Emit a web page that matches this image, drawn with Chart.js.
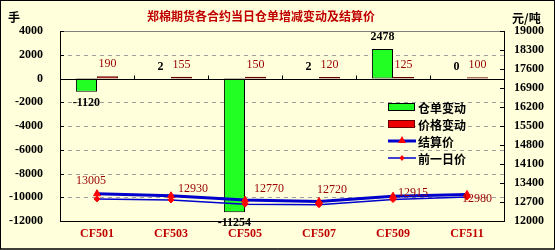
<!DOCTYPE html>
<html><head><meta charset="utf-8">
<script src="https://cdn.jsdelivr.net/npm/chart.js@4"></script>
<style>html,body{margin:0;padding:0;background:#FFFFDC;}#wrap{width:555px;height:250px;position:relative}</style>
</head><body><div id="wrap"><canvas id="c" width="555" height="250"></canvas></div>
<script>
const categories = ['CF501','CF503','CF505','CF507','CF509','CF511'];
const warrantChange = [-1120, 2, -11254, 2, 2478, 0];
const priceChange = [190, 155, 150, 120, 125, 100];
const settlePrice = [13005, 12930, 12770, 12720, 12915, 12980];
const prevPrice = [12815, 12775, 12620, 12600, 12790, 12880];
const leftAxisRange = [-12000, 4000, 2000];
const rightAxisRange = [12000, 19000, 700];
const seriesNames = ['仓单变动','价格变动','结算价','前一日价'];
const titleText = '郑棉期货各合约当日仓单增减变动及结算价';
const leftUnit = '手';
const rightUnit = '元/吨';

const NUMFONT = "'Liberation Serif', 'Times New Roman', serif";
const CJKFONT = "'Noto Sans CJK SC', sans-serif";
const BG = '#FFFFDC';

const decor = {
  id: 'decor',
  beforeDraw(chart) {
    const ctx = chart.ctx;
    ctx.save();
    ctx.fillStyle = BG;
    ctx.fillRect(0, 0, chart.width, chart.height);
    ctx.restore();
  },
  beforeDatasetsDraw(chart) {
    const ctx = chart.ctx, a = chart.chartArea;
    const y = chart.scales.y, y1 = chart.scales.y1;
    ctx.save();
    ctx.strokeStyle = '#A0A0A0';
    ctx.lineWidth = 1;
    ctx.setLineDash([4, 4]);
    y.ticks.forEach(t => {
      if (t.value === y.max || t.value === y.min || t.value === 0) return;
      const p = Math.round(y.getPixelForValue(t.value)) + 0.5;
      ctx.beginPath(); ctx.moveTo(a.left, p); ctx.lineTo(a.right, p); ctx.stroke();
    });
    ctx.setLineDash([]);
    ctx.strokeStyle = '#808080';
    ctx.beginPath(); ctx.moveTo(a.left, a.top + 0.5); ctx.lineTo(a.right, a.top + 0.5); ctx.stroke();
    ctx.strokeStyle = '#000';
    y.ticks.forEach(t => {
      const p = Math.round(y.getPixelForValue(t.value)) + 0.5;
      ctx.beginPath(); ctx.moveTo(a.left, p); ctx.lineTo(a.left + 4, p); ctx.stroke();
    });
    y1.ticks.forEach(t => {
      const p = Math.round(y1.getPixelForValue(t.value)) + 0.5;
      ctx.beginPath(); ctx.moveTo(a.right - 4, p); ctx.lineTo(a.right, p); ctx.stroke();
    });
    ctx.restore();
  },
  afterDatasetsDraw(chart) {
    const ctx = chart.ctx, a = chart.chartArea;
    const y = chart.scales.y, x = chart.scales.x;
    ctx.save();
    const z = Math.round(y.getPixelForValue(0)) + 0.5;
    ctx.strokeStyle = '#000'; ctx.lineWidth = 1;
    ctx.beginPath(); ctx.moveTo(a.left, z); ctx.lineTo(a.right, z); ctx.stroke();
    const half = (x.getPixelForValue(1) - x.getPixelForValue(0)) / 2;
    for (let i = 0; i < categories.length - 1; i++) {
      const px = Math.round(x.getPixelForValue(i) + half) + 0.5;
      ctx.beginPath(); ctx.moveTo(px, z); ctx.lineTo(px, z - 4); ctx.stroke();
    }
    ctx.textAlign = 'center'; ctx.textBaseline = 'middle';
    [[0, '#000', 'bold'], [1, '#990000', 'normal']].forEach(([di, col, w]) => {
      const meta = chart.getDatasetMeta(di);
      const vals = chart.data.datasets[di].data;
      ctx.fillStyle = col;
      ctx.font = w + ' 12px ' + NUMFONT;
      meta.data.forEach((el, i) => {
        const v = vals[i];
        const ty = v >= 0 ? Math.min(el.y, el.base) - 12 : Math.max(el.y, el.base) + 11;
        ctx.fillText(String(v), el.x, ty);
      });
    });
    const offs = chart.options.plugins.decor.labelOffsets;
    const meta = chart.getDatasetMeta(2);
    ctx.fillStyle = '#990000';
    ctx.font = 'normal 12px ' + NUMFONT;
    meta.data.forEach((el, i) => {
      ctx.fillText(String(settlePrice[i]), el.x + offs[i][0], el.y + offs[i][1]);
    });
    ctx.restore();
  },
  afterDraw(chart) {
    const ctx = chart.ctx;
    ctx.save();
    ctx.fillStyle = '#C00000';
    ctx.font = 'bold 12px ' + CJKFONT;
    ctx.textAlign = 'center'; ctx.textBaseline = 'middle';
    ctx.fillText(titleText, 261, 16);
    ctx.fillStyle = '#000';
    ctx.textAlign = 'left';
    ctx.fillText(leftUnit, 8, 17);
    ctx.fillText(rightUnit, 512, 18);
    const lx = 388, tx = 418, rows = [107, 124, 141, 158];
    const ds = chart.data.datasets;
    ctx.lineWidth = 1;
    [0, 1].forEach(i => {
      ctx.fillStyle = ds[i].backgroundColor;
      ctx.fillRect(lx, rows[i] - 3.5, 26, 7);
      ctx.strokeStyle = ds[i].borderColor;
      ctx.strokeRect(lx + 0.5, rows[i] - 3.5, 26, 7);
    });
    [2, 3].forEach(i => {
      const r = rows[i];
      ctx.strokeStyle = ds[i].borderColor;
      ctx.lineWidth = ds[i].borderWidth;
      ctx.beginPath(); ctx.moveTo(lx, r); ctx.lineTo(lx + 28, r); ctx.stroke();
      ctx.fillStyle = ds[i].pointBackgroundColor;
      ctx.beginPath();
      if (i === 2) {
        ctx.moveTo(lx + 14, r - 5); ctx.lineTo(lx + 18, r + 2); ctx.lineTo(lx + 10, r + 2);
      } else {
        ctx.moveTo(lx + 14, r - 3); ctx.lineTo(lx + 16.5, r); ctx.lineTo(lx + 14, r + 3); ctx.lineTo(lx + 11.5, r);
      }
      ctx.closePath(); ctx.fill();
    });
    ctx.fillStyle = '#000';
    ctx.font = 'bold 12px ' + CJKFONT;
    ctx.textAlign = 'left'; ctx.textBaseline = 'middle';
    seriesNames.forEach((n, i) => ctx.fillText(n, tx, rows[i] + 1));
    ctx.strokeStyle = '#000'; ctx.lineWidth = 1;
    ctx.strokeRect(0.5, 0.5, chart.width - 1, chart.height - 1.5);
    ctx.beginPath(); ctx.moveTo(0, chart.height - 1); ctx.lineTo(chart.width, chart.height - 1); ctx.stroke();
    ctx.restore();
  }
};

new Chart(document.getElementById('c'), {
  data: {
    labels: categories,
    datasets: [
      { type: 'bar', label: seriesNames[0], data: warrantChange, yAxisID: 'y',
        backgroundColor: '#22FF22', borderColor: '#000000', borderWidth: 1, borderSkipped: false,
        categoryPercentage: 0.57, barPercentage: 1, order: 2 },
      { type: 'bar', label: seriesNames[1], data: priceChange, yAxisID: 'y',
        backgroundColor: '#EE0000', borderColor: '#660000', borderWidth: 1, borderSkipped: false,
        categoryPercentage: 0.57, barPercentage: 1, order: 2 },
      { type: 'line', label: seriesNames[2], data: settlePrice, yAxisID: 'y1',
        borderColor: '#0000CC', borderWidth: 3, tension: 0, fill: false,
        pointStyle: 'triangle', pointRadius: 4, pointBackgroundColor: '#FF0000', pointBorderColor: '#FF0000', pointBorderWidth: 1, order: 0 },
      { type: 'line', label: seriesNames[3], data: prevPrice, yAxisID: 'y1',
        borderColor: '#0000CC', borderWidth: 1.5, tension: 0, fill: false,
        pointStyle: 'rectRot', pointRadius: 3, pointBackgroundColor: '#FF0000', pointBorderColor: '#FF0000', pointBorderWidth: 1, order: 1 }
    ]
  },
  options: {
    responsive: false,
    animation: false,
    devicePixelRatio: 1,
    layout: { padding: { top: 31, left: 0, right: 0, bottom: 0 } },
    plugins: {
      legend: { display: false },
      tooltip: { enabled: false },
      title: { display: false },
      decor: { labelOffsets: [[-6, -13], [22, -7], [24, -11], [13, -12], [20, -3], [10, 4]] }
    },
    scales: {
      x: {
        grid: { display: false, drawTicks: false },
        border: { display: true, color: '#000', width: 1 },
        ticks: { color: '#C00000', font: { family: NUMFONT, size: 12, weight: 'bold' }, padding: 6, maxRotation: 0 },
        afterFit(s) { s.height = 29; }
      },
      y: {
        position: 'left',
        min: leftAxisRange[0], max: leftAxisRange[1],
        grid: { display: false, drawTicks: false },
        border: { display: true, color: '#000', width: 1 },
        ticks: { stepSize: leftAxisRange[2], color: '#000', font: { family: NUMFONT, size: 12, weight: 'bold' }, padding: 17,
                 callback: v => String(v) },
        afterFit(s) { s.width = 60; }
      },
      y1: {
        position: 'right',
        min: rightAxisRange[0], max: rightAxisRange[1],
        grid: { display: false, drawTicks: false },
        border: { display: true, color: '#000', width: 1 },
        ticks: { stepSize: rightAxisRange[2], color: '#000', font: { family: NUMFONT, size: 12, weight: 'bold' }, padding: 10,
                 callback: v => String(v) },
        afterFit(s) { s.width = 51; }
      }
    }
  },
  plugins: [decor]
});
</script>
</body></html>
